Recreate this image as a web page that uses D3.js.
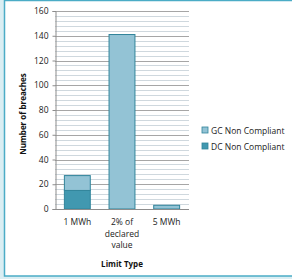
<!DOCTYPE html>
<html>
<head>
<meta charset="utf-8">
<script src="https://cdn.jsdelivr.net/npm/d3@7"></script>
<style>
  body { margin: 0; background: #daeef3; }
  svg { display: block; }
</style>
</head>
<body>
<div id="chart"></div>
<script>
// chart values
var categories = ["1 MWh", "2% of declared value", "5 MWh"];
var catLines = [["1 MWh"], ["2% of", "declared", "value"], ["5 MWh"]];
var dcValues = [15, 0, 0];
var gcValues = [12, 141, 3];
var seriesNames = ["DC Non Compliant", "GC Non Compliant"];
var yTicks = [0, 20, 40, 60, 80, 100, 120, 140, 160];

function init(){

    var w = 292;
    var h = 279;
    var font = "'Open Sans', sans-serif";

    var svg = d3.select("#chart")
                .append("svg")
                .attr("width", w)
                .attr("height", h);

    // frame
    svg.append("rect")
        .attr("x", 4.5).attr("y", 0.5)
        .attr("width", 300).attr("height", 275.5)
        .attr("fill", "white")
        .attr("stroke", "#4bacc6")
        .attr("stroke-width", 1.5);

    var left = 55, right = 189, top = 11, bottom = 209;

    var x = d3.scaleBand()
                .domain(categories)
                .range([left, right])
                .paddingInner(0.42)
                .paddingOuter(0.21);

    var y = d3.scaleLinear()
                .domain([0, 160])
                .range([bottom, top]);

    // minor gridlines
    svg.append("g")
        .selectAll("line")
        .data(d3.range(0, 161, 4))
        .enter()
        .append("line")
        .attr("x1", left).attr("x2", right)
        .attr("y1", function(d){ return Math.round(y(d)) + 0.5; })
        .attr("y2", function(d){ return Math.round(y(d)) + 0.5; })
        .attr("stroke", "#cfd8de")
        .attr("stroke-width", 1);

    // major gridlines
    svg.append("g")
        .selectAll("line")
        .data(yTicks)
        .enter()
        .append("line")
        .attr("x1", left).attr("x2", right)
        .attr("y1", function(d){ return Math.round(y(d)) + 0.5; })
        .attr("y2", function(d){ return Math.round(y(d)) + 0.5; })
        .attr("stroke", "#a6a6a6")
        .attr("stroke-width", 1);

    // stacked data
    var rows = categories.map(function(c, i){
        return { cat: c, DC: dcValues[i], GC: gcValues[i] };
    });
    var stack = d3.stack().keys(["DC", "GC"]);
    var layers = stack(rows);
    var fills = { DC: "#4198b0", GC: "#93c3d5" };

    svg.append("g")
        .selectAll("g")
        .data(layers)
        .enter()
        .append("g")
        .attr("fill", function(d){ return fills[d.key]; })
        .selectAll("rect")
        .data(function(d){ return d.filter(function(p){ return p[1] - p[0] > 0; }); })
        .enter()
        .append("rect")
        .attr("x", function(d){ return x(d.data.cat); })
        .attr("y", function(d){ return y(d[1]); })
        .attr("width", x.bandwidth())
        .attr("height", function(d){ return y(d[0]) - y(d[1]); })
        .attr("stroke", "#31849b")
        .attr("stroke-width", 1);

    // y axis
    var yAxis = d3.axisLeft(y)
                .tickValues(yTicks)
                .tickSize(3)
                .tickPadding(4);
    var ya = svg.append("g")
        .attr("transform", "translate(" + (left + 0.5) + ",0)")
        .call(yAxis);
    ya.select(".domain").attr("stroke", "#8c8c8c");
    ya.selectAll(".tick line").attr("stroke", "#8c8c8c");
    ya.selectAll("text")
        .attr("font-family", font)
        .attr("font-size", "8.5px")
        .attr("fill", "#222");

    // x axis line
    svg.append("line")
        .attr("x1", left).attr("x2", right)
        .attr("y1", bottom + 0.5).attr("y2", bottom + 0.5)
        .attr("stroke", "#8c8c8c");

    // category labels
    svg.append("g")
        .selectAll("text")
        .data(categories)
        .enter()
        .append("text")
        .attr("x", function(d){ return x(d) + x.bandwidth() / 2; })
        .attr("y", 225)
        .attr("text-anchor", "middle")
        .attr("font-family", font)
        .attr("font-size", "8.5px")
        .attr("fill", "#222")
        .selectAll("tspan")
        .data(function(d, i){ return catLines[i]; })
        .enter()
        .append("tspan")
        .attr("x", function(){ var c = d3.select(this.parentNode).datum(); return x(c) + x.bandwidth() / 2; })
        .attr("dy", function(d, i){ return i === 0 ? 0 : 11.7; })
        .text(function(d){ return d; });

    // axis titles
    svg.append("text")
        .attr("x", (left + right) / 2)
        .attr("y", 267)
        .attr("text-anchor", "middle")
        .attr("font-family", font)
        .attr("font-size", "8px")
        .attr("font-weight", "bold")
        .attr("fill", "#111")
        .text("Limit Type");

    svg.append("text")
        .attr("transform", "translate(26," + ((top + bottom) / 2 + 4) + ") rotate(-90)")
        .attr("text-anchor", "middle")
        .attr("font-family", font)
        .attr("font-size", "8px")
        .attr("font-weight", "bold")
        .attr("fill", "#111")
        .text("Number of breaches");

    // legend
    var legendItems = [seriesNames[1], seriesNames[0]];
    var legendFills = [fills.GC, fills.DC];
    var lg = svg.append("g")
        .selectAll("g")
        .data(legendItems)
        .enter()
        .append("g")
        .attr("transform", function(d, i){ return "translate(202," + (127 + i * 16) + ")"; });
    lg.append("rect")
        .attr("width", 6).attr("height", 6)
        .attr("fill", function(d, i){ return legendFills[i]; })
        .attr("stroke", "#31849b")
        .attr("stroke-width", 0.8);
    lg.append("text")
        .attr("x", 9).attr("y", 6.5)
        .attr("font-family", font)
        .attr("font-size", "8.5px")
        .attr("fill", "#222")
        .text(function(d){ return d; });
}

window.onload = init;
</script>
</body>
</html>
